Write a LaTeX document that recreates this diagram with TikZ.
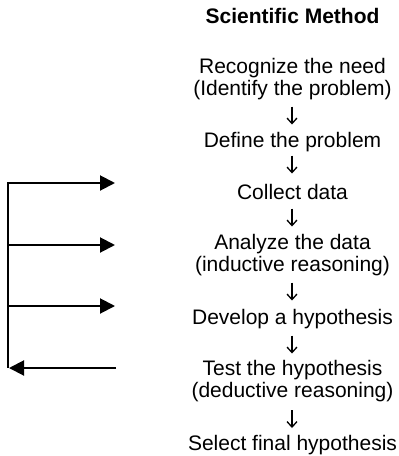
\documentclass[tikz,border=0pt]{standalone}
\usepackage{fontspec}
\setmainfont{Liberation Sans}
\usetikzlibrary{arrows.meta}

\tikzset{
  steptext/.style={font=\fontsize{21}{21.7}\selectfont, inner sep=0pt, anchor=base, align=center},
  titletext/.style={font=\bfseries\fontsize{21}{21.7}\selectfont, inner sep=0pt, anchor=base},
  stepconn/.style={line width=1.1pt, -{Straight Barb[length=5.5pt, width=10pt, line width=1.3pt]}},
  loopline/.style={line width=2pt},
  looparrow/.style={line width=2pt, -{Triangle[length=15pt, width=15pt]}},
}

\begin{document}
\begin{tikzpicture}[x=1pt, y=-1pt]
  \useasboundingbox (0,0) rectangle (399,456);

  % title and the column of steps (base anchor = baseline of the last line)
  \node[titletext] (title) at (292.5,23) {Scientific Method};
  \node[steptext] (recog) at (292.5,95) {Recognize the need\\(Identify the problem)};
  \node[steptext] (define) at (292.5,147) {Define the problem};
  \node[steptext] (collect) at (292.5,199) {Collect data};
  \node[steptext] (analyze) at (292.5,271.5) {Analyze the data\\(inductive reasoning)};
  \node[steptext] (develop) at (292.5,324) {Develop a hypothesis};
  \node[steptext] (test) at (292.5,397.5) {Test the hypothesis\\(deductive reasoning)};
  \node[steptext] (select) at (292.5,450.5) {Select final hypothesis};

  % short down arrows between consecutive steps
  \draw[stepconn] ([xshift=-0.5pt,yshift=-11.5pt]recog.base) -- ([xshift=-0.5pt,yshift=22.5pt]define.base);
  \draw[stepconn] ([xshift=-0.5pt,yshift=-8.5pt]define.base) -- ([xshift=-0.5pt,yshift=25.5pt]collect.base);
  \draw[stepconn] ([xshift=-0.5pt,yshift=-9.5pt]collect.base) -- ([xshift=-0.5pt,yshift=45pt]analyze.base);
  \draw[stepconn] ([xshift=-0.5pt,yshift=-11pt]analyze.base) -- ([xshift=-0.5pt,yshift=23.5pt]develop.base);
  \draw[stepconn] ([xshift=-0.5pt,yshift=-11.5pt]develop.base) -- ([xshift=-0.5pt,yshift=44pt]test.base);
  \draw[stepconn] ([xshift=-0.5pt,yshift=-12.5pt]test.base) -- ([xshift=-0.5pt,yshift=22.5pt]select.base);

  % feedback loop on the left
  \coordinate (k1) at (8,183);
  \coordinate (k2) at (8,245);
  \coordinate (k3) at (8,306);
  \coordinate (k4) at (8,368);
  \coordinate (e1) at (115,183);
  \coordinate (e2) at (115,245);
  \coordinate (e3) at (115,306);
  \coordinate (e4) at (116,368);

  \draw[loopline] (k1) -- (k4);
  \draw[looparrow] ([xshift=-1pt]k1) -- (e1);
  \draw[looparrow] (k2) -- (e2);
  \draw[looparrow] (k3) -- (e3);
  \draw[looparrow] (e4) -- ([xshift=1pt]k4);
\end{tikzpicture}
\end{document}
